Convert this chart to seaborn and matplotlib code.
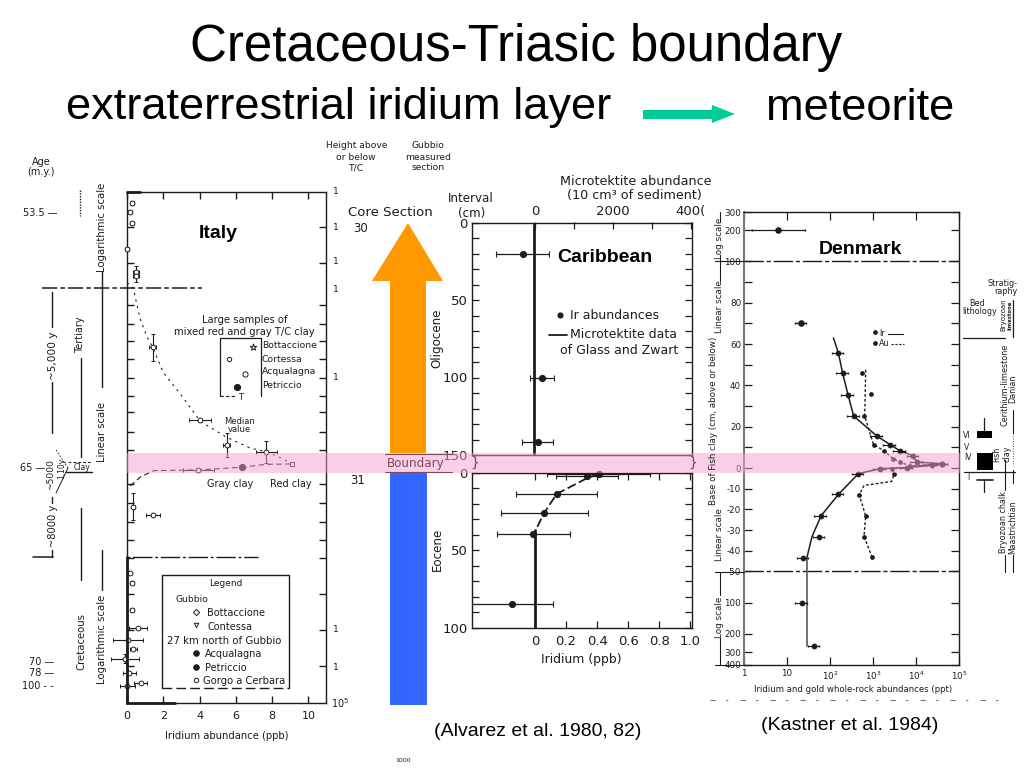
import numpy as np
import pandas as pd
import matplotlib
matplotlib.use("Agg")
import matplotlib.pyplot as plt
import seaborn as sns
from matplotlib.lines import Line2D
from matplotlib.patches import Polygon, Rectangle
from matplotlib.transforms import Affine2D

# ---------- data ----------
italy_open_ppb = [0.26, 0.16, 0.29, 0.0, 0.5, 0.5, 1.42, 4.03, 5.5, 7.68, 3.94, 0.35, 1.44,
                  0.16, 0.26, 0.26, 0.62, 0.07, 0.35, -0.1, 0.13, 0.76, 0.02]
italy_open_h = [14.7, 14.2, 13.6, 12.15, 10.9, 10.65, 6.7, 2.67, 1.27, 0.9, -0.11, -2.15, -2.6,
                -5.85, -6.4, -7.9, -8.87, -9.55, -10.07, -10.6, -11.4, -11.97, -12.1]
italy_open_xerr = [0.1, 0.1, 0.1, 0.1, 0.15, 0.15, 0.2, 0.6, 0.2, 0.57, 0.83, 0.1, 0.37,
                   0.05, 0.1, 0.1, 0.5, 0.83, 0.2, 0.76, 0.37, 0.37, 0.43]
italy_open_yerr = [0, 0, 0, 0, 0.3, 0.3, 0.75, 0, 0.65, 0.6, 0.1, 0.74, 0,
                   0, 0, 0, 0, 0, 0, 0.25, 0, 0, 0]
italy_solid_ppb = [6.33]
italy_solid_h = [0.04]
italy_upper_curve_ppb = [0.0, 0.34, 0.72, 1.09, 1.42, 2.0, 3.1, 4.03, 5.5, 6.8, 7.7, 8.5, 9.1]
italy_upper_curve_h = [10.3, 10.0, 8.3, 7.3, 6.7, 5.3, 3.9, 2.6, 1.7, 1.1, 0.9, 0.55, 0.22]
italy_lower_curve_ppb = [0.18, 0.74, 1.48, 3.94, 6.33, 7.68, 9.1]
italy_lower_curve_h = [-1.0, -0.5, -0.15, -0.11, 0.04, 0.2, 0.22]
italy_x_ticks = [0, 2, 4, 6, 8, 10]
italy_x_labels = ["0", "2", "4", "6", "8", "10"]
italy_y_ticks = [13.4, 11.4, 9.05, 8, 7.05, 6.05, 5, 4, 3.1, 2, 1, -0.9, -1.95, -3, -4, -5, -7, -9, -11]
sample_x = [6.94, 5.6, 6.52, 6.06]
sample_h = [6.74, 6.04, 5.22, 4.52]
key_x = [3.8, 3.8, 3.8, 3.8, 3.8]
key_h = [-7.98, -8.72, -10.28, -11.05, -11.78]

carib_up_ir = [-0.08, 0.045, 0.017]
carib_up_depth = [20.5, 100, 141.8]
carib_up_err = [0.17, 0.075, 0.1]
carib_low_ir = [0.41, 0.335, 0.14, 0.06, -0.01, -0.146]
carib_low_depth = [0.8, 2.1, 13.7, 25.8, 39.7, 84.9]
carib_low_err = [0.33, 0.2, 0.26, 0.28, 0.235, 0.26]
carib_curve_ir = [0.41, 0.335, 0.14, 0.06, 0.005]
carib_curve_depth = [0.8, 3.5, 13.7, 25.8, 37]
carib_micro_upper_ir = [-0.008, -0.008]
carib_micro_upper_depth = [0, 150]
carib_micro_lower_ir = [0, 0]
carib_micro_lower_depth = [37, 100]
carib_x_ticks = [0, 0.2, 0.4, 0.6, 0.8, 1.0]
carib_x_labels = ["0", "0.2", "0.4", "0.6", "0.8", "1.0"]
micro_ticks = [0, 1000, 2000, 3000, 4000]
micro_labels = ["0", "", "2000", "", "400("]

den_ir_up_x = [156, 197, 262, 355, 1225, 2485, 4260, 8700, 10400, 39700]
den_ir_up_y = [55.9, 45.9, 35.5, 25.2, 15.5, 11.4, 8.3, 5.9, 2.9, 2.1]
den_ir_low_x = [39700, 23200, 6060, 1450, 457, 156, 62, 56, 24, 22, 43]
den_ir_low_y = [1.8, 1.3, 0.2, -0.3, -2.7, -12.8, -23.1, -33.3, -43.4, -100, -260]
den_ir_far_x = [6.07, 21.5]
den_ir_far_y = [200, 70.4]
den_ir_far_lo = [1.5, 15]
den_ir_far_hi = [26, 28]
den_ir_curve_x = [120, 156, 197, 262, 355, 1225, 2485, 4260, 8700, 10400, 39700, 23200, 6060,
                  1450, 457, 156, 62, 38, 29, 29, 29]
den_ir_curve_y = [63, 55.9, 45.9, 35.5, 25.2, 15.5, 11.4, 8.3, 5.9, 2.9, 2.1, 1.3, 0.2,
                  -0.3, -2.7, -12.8, -23.1, -33.3, -43.4, -100, -260]
den_au_x = [562, 898, 630, 1030, 1830, 2880, 4260, 7280, 2700, 3150, 480, 676, 617, 955]
den_au_y = [45.9, 35.8, 25.2, 11.4, 8.3, 4.6, 2.9, 1.0, -0.3, -2.7, -13, -23.2, -33.2, -43.1]
den_au_curve_x = [676, 650, 640, 1030, 1830, 2880, 4260, 7280, 39700, 2700, 3150, 2700, 620, 480, 676, 617, 955]
den_au_curve_y = [47.6, 30, 25.2, 11.4, 8.3, 4.6, 2.9, 1.0, 2.1, -0.3, -2.7, -6.5, -8.4, -13, -23.2, -33.2, -43.1]
den_key_x = [1120, 1120]
den_key_y = [65.7, 60.3]
den_y_ticks = [300, 200, 100, 90, 80, 70, 60, 50, 40, 30, 20, 10, 0, -10, -20, -30, -40, -50,
               -100, -200, -300, -400]
den_y_labels = ["300", "200", "100", "", "80", "", "60", "", "40", "", "20", "", "0", "-10", "-20", "-30",
                "-40", "-50", "100", "200", "300", "400"]
den_x_ticks = [1, 10, 100, 1000, 10000, 100000]
den_x_labels = ["1", "10", "10$^2$", "10$^3$", "10$^4$", "10$^5$"]

# ---------- canvas ----------
INK = "#1c1c1c"
MAUVE = "#7a4a62"
sns.set_theme(style="white", rc={"axes.facecolor": "none", "figure.facecolor": "white"})
plt.rcParams["font.family"] = ["DejaVu Sans"]
W, H = 1024, 768
fig = plt.figure(figsize=(W / 100, H / 100), dpi=100)
px = Affine2D().scale(1 / W, -1 / H).translate(0, 1) + fig.transFigure


def panel(left, top, right, bottom):
    ax = fig.add_axes([left / W, 1 - bottom / H, (right - left) / W, (bottom - top) / H])
    ax.set_facecolor("none")
    for s in ax.spines.values():
        s.set_color(INK)
        s.set_linewidth(1.0)
    return ax


def note(x, y, s, size=6.5, color=INK, ha="center", va="center", **kw):
    return fig.text(x, y, s, transform=px, fontsize=size, color=color, ha=ha, va=va, **kw)


def slide(x, y, s, size, **kw):
    return note(x, y, s, size=size, color="black", family="Liberation Sans", **kw)


def rule(xs, ys, lw=1.0, ls="-", color=INK, z=4):
    fig.add_artist(Line2D(xs, ys, transform=px, lw=lw, ls=ls, color=color, zorder=z))


def fill(artist):
    artist.set_transform(px)
    fig.add_artist(artist)


def marks(ax, x, y, marker="o", size=16, face=INK, edge=INK):
    sns.scatterplot(x=x, y=y, ax=ax, marker=marker, s=size, color=face, edgecolor=edge,
                    linewidth=0.7, zorder=5, legend=False, clip_on=False)


def curve(ax, x, y, ls="-", lw=1.0, color=INK):
    frame = pd.DataFrame({"x": x, "y": y, "o": np.arange(len(x))})
    sns.lineplot(data=frame, x="x", y="y", ax=ax, sort=False, estimator=None, color=color,
                 lw=lw, ls=ls, legend=False, zorder=3)
    ax.set_xlabel("")
    ax.set_ylabel("")


# ---------- slide decoration ----------
slide(516.5, 47, "Cretaceous-Triasic boundary", 36.7)
slide(339, 108, "extraterrestrial iridium layer", 32.6)
slide(860, 108, "meteorite", 32.6)
fill(Polygon([(643, 110), (712, 110), (712, 105), (735, 114), (712, 123), (712, 119), (643, 119)],
             closed=True, fc="#00CC99", ec="none", zorder=2))
fill(Polygon([(408, 223), (443, 281), (426, 281), (426, 453), (390, 453), (390, 281), (372, 281)],
             closed=True, fc="#FF9900", ec="none", zorder=-3))
fill(Rectangle((390, 473), 37, 232, fc="#3366FF", ec="none", zorder=-3))
fill(Rectangle((127, 453), 833, 20, fc=(0.97, 0.63, 0.80), alpha=0.5, ec="none", zorder=1))
slide(218, 233, "Italy", 14, fontweight="bold")
slide(604.5, 258, "Caribbean", 14, fontweight="bold")
slide(860, 249, "Denmark", 14, fontweight="bold")
slide(538, 731, "(Alvarez et al. 1980, 82)", 14)
slide(850, 726, "(Kastner et al. 1984)", 14)

# ---------- Italy ----------
ax = panel(127, 192, 326, 703)
ax.set_xlim(0, 10.97)
ax.set_ylim(-13.06, 15.33)
ax.set_xticks(italy_x_ticks)
ax.set_xticklabels(italy_x_labels)
ax.set_yticks(italy_y_ticks)
ax.set_yticklabels([])
ax.tick_params(direction="in", length=5, width=1, color=INK, labelsize=8, labelcolor=INK, pad=6,
               left=True, right=True, bottom=True, top=True)
ax.errorbar(italy_open_ppb, italy_open_h, xerr=italy_open_xerr, yerr=italy_open_yerr, fmt="none",
            ecolor=INK, elinewidth=0.8, capsize=1.5, capthick=0.7, zorder=4, clip_on=False)
marks(ax, italy_open_ppb, italy_open_h, size=12, face="white")
marks(ax, italy_solid_ppb, italy_solid_h, size=20)
marks(ax, [9.1], [0.22], marker="s", size=12, face="white")
curve(ax, italy_upper_curve_ppb, italy_upper_curve_h, ls=(0, (2, 4)), lw=0.8)
curve(ax, italy_lower_curve_ppb, italy_lower_curve_h, ls=(0, (5, 3)), lw=0.8)
marks(ax, sample_x[:1], sample_h[:1], marker="*", size=24, face="white")
marks(ax, sample_x[1:2], sample_h[1:2], marker="o", size=10, face="white")
marks(ax, sample_x[2:3], sample_h[2:3], marker="o", size=14, face="white")
marks(ax, sample_x[3:], sample_h[3:], size=20)
marks(ax, key_x[:1], key_h[:1], marker="D", size=10, face="white")
marks(ax, key_x[1:2], key_h[1:2], marker="v", size=10, face="white")
marks(ax, key_x[2:4], key_h[2:4], size=16)
marks(ax, key_x[4:], key_h[4:], size=10, face="white")
ax.set_xlim(0, 10.97)
ax.set_ylim(-13.06, 15.33)
rule([127, 127], [557, 703], 2.0)
rule([127, 175], [703, 703], 2.0)
rule([127, 140], [192, 192], 2.0)

note(41, 162, "Age", 7)
note(41, 172, "(m.y.)", 7)
note(40, 213, "53.5 —", 7)
note(33, 468, "65 —", 7)
note(42, 662, "70 —", 7)
note(42, 673, "78 —", 7)
note(38, 686, "100 - -", 7)
note(102, 227, "Logarithmic scale", 7.3, rotation=90)
note(102, 432, "Linear scale", 7.2, rotation=90)
note(102, 639, "Logarithmic scale", 7.3, rotation=90)
note(80.5, 335, "Tertiary", 7, rotation=90)
note(81, 642, "Cretaceous", 7.3, rotation=90)
note(53, 356, "~5,000 y", 7.6, rotation=90)
note(51, 474, "~5000", 6.6, rotation=90)
note(53, 526, "~8000 y", 7.2, rotation=90)
note(62, 468, "1.10y", 5.5, rotation=90)
note(82, 467, "Clay", 5.5)
rule([42, 202], [288, 288], 1.1, (0, (10, 2, 3, 2)))
rule([33, 53], [557, 557], 1.1)
rule([127, 258], [557, 557], 1.0, (0, (2, 2, 14, 2)))
rule([52, 52], [292, 327], 1)
rule([52, 52], [382, 433], 1)
rule([52, 52], [497, 503], 1)
rule([52, 52], [550, 557], 1)
rule([80.5, 80.5], [358, 457], 1)
rule([80.5, 80.5], [508, 580], 1)
rule([102, 102], [272, 387], 1)
rule([102, 102], [550, 590], 1)
rule([80, 80], [190, 216], 1, (0, (1, 1)))
rule([66, 92], [472, 472], 1)
rule([68, 92], [462, 462], 0.7, (0, (3, 2)))
rule([56, 68], [450, 468], 0.6, (0, (2, 2)))
rule([56, 68], [493, 468], 0.7)

note(245, 320, "Large samples of", 7.2)
note(244, 332, "mixed red and gray T/C clay", 7.2)
rule([220, 220, 261, 261], [396, 338, 338, 396], 0.9)
rule([220, 236], [396, 396], 0.8, (0, (3, 2)))
for label, yy in zip(["Bottaccione", "Cortessa", "Acqualagna", "Petriccio"], [346, 359, 372, 386]):
    note(262, yy, label, 6.7, ha="left")
note(241, 398, "T", 6)
note(239.5, 421, "Median", 6)
note(239.5, 430, "value", 6)
note(230, 484, "Gray clay", 7)
note(291, 484, "Red clay", 7)

rule([162, 162, 289, 289], [688, 575, 575, 688], 1.0)
rule([162, 289], [688, 688], 1.0, (0, (7, 3)))
note(226, 584, "Legend", 6.5)
note(175, 599.5, "Gubbio", 6.6, ha="left")
note(207, 613, "Bottaccione", 7, ha="left")
note(207, 627, "Contessa", 7, ha="left")
note(167, 641, "27 km north of Gubbio", 7.3, ha="left")
note(205, 654, "Acqualagna", 7, ha="left")
note(205, 668, "Petriccio", 7, ha="left")
note(203, 681, "Gorgo a Cerbara", 7.2, ha="left")
note(227, 736, "Iridium abundance (ppb)", 7.2)

note(357, 146, "Height above", 6.6)
note(356, 157, "or below", 6.6)
note(357, 168, "T/C", 6.6)
note(428, 146, "Gubbio", 6.6)
note(428, 157, "measured", 6.6)
note(428, 168, "section", 6.6)
for yy in [192, 227, 262, 290, 377, 630, 667]:
    note(336, yy, "1", 6.5)
note(340, 703, "10$^5$", 7)

# ---------- Caribbean ----------
up = panel(472, 222.5, 691.5, 455)
up.set_xlim(-0.405, 1.006)
up.set_ylim(150, 0)
up.set_yticks([0, 50, 100, 150])
up.set_yticklabels(["0", "50", "100", "150"])
up.set_yticks(np.arange(0, 150, 10), minor=True)
up.tick_params(which="both", direction="in", right=True, left=True, width=0.9, color=INK,
               labelsize=9.5, labelcolor=INK, pad=3, length=5)
up.set_xticks([])
curve(up, carib_micro_upper_ir, carib_micro_upper_depth, lw=2.0)
up.errorbar(carib_up_ir, carib_up_depth, xerr=carib_up_err, fmt="none", ecolor=INK, elinewidth=0.9,
            capsize=2.5, capthick=0.8, zorder=4)
marks(up, carib_up_ir, carib_up_depth, size=20)
marks(up, [0.163], [59.7], size=14)
up.set_xlim(-0.405, 1.006)
up.set_ylim(150, 0)
micro = up.secondary_xaxis("top", functions=(lambda v: v * 4000, lambda v: v / 4000))
micro.set_xticks(micro_ticks)
micro.set_xticklabels(micro_labels)
micro.tick_params(direction="in", length=5, width=0.9, color=INK, labelsize=9.5, labelcolor=INK, pad=3)
micro.spines["top"].set_visible(False)

low = panel(472, 472.7, 692, 627.7)
low.set_xlim(-0.405, 1.01)
low.set_ylim(100, 0)
low.set_xticks(carib_x_ticks)
low.set_xticklabels(carib_x_labels)
low.set_yticks([0, 50, 100])
low.set_yticklabels(["0", "50", "100"])
low.set_yticks(np.arange(0, 100, 10), minor=True)
low.tick_params(which="both", direction="in", right=True, left=True, top=True, bottom=True, width=0.9,
                color=INK, labelsize=9.5, labelcolor=INK, pad=5, length=5)
low.tick_params(axis="y", pad=3)
curve(low, carib_micro_lower_ir, carib_micro_lower_depth, lw=2.0)
curve(low, carib_curve_ir, carib_curve_depth, ls=(0, (5, 2)), lw=1.3)
low.errorbar(carib_low_ir, carib_low_depth, xerr=carib_low_err, fmt="none", ecolor=INK, elinewidth=0.9,
             capsize=2.5, capthick=0.8, zorder=4)
marks(low, carib_low_ir, carib_low_depth, size=20)
low.set_xlim(-0.405, 1.01)
low.set_ylim(100, 0)

note(581, 660, "Iridium (ppb)", 8.9)
note(636, 181.5, "Microtektite abundance", 9.2)
note(634.5, 195, "(10 cm³ of sediment)", 9.2)
note(471, 199, "Interval", 8.6)
note(472, 213, "(cm)", 8.6)
note(390, 213, "Core Section", 9.5)
note(361, 228, "30", 8.5)
note(358, 480, "31", 8.5)
note(416, 463, "Boundary", 8.6, color=MAUVE)
rule([385, 452], [454, 454], 0.8, color=MAUVE)
rule([385, 452], [472, 472], 0.8, color=MAUVE)
note(437, 338, "Oligocene", 8.6, rotation=90)
note(437, 549, "Eocene", 8.6, rotation=90)
note(475, 463, "}", 10, color=MAUVE)
note(693, 463, "}", 10, color=MAUVE)
note(614.5, 315.5, "Ir abundances", 9)
rule([549, 567], [335, 335], 1.3)
note(624, 335, "Microtektite data", 9)
note(619.5, 350, "of Glass and Zwart", 9)

# ---------- Denmark ----------
DEC = 50.2


def den_fwd(v):
    v = np.asarray(v, dtype=float)
    out = v.copy()
    hi = v > 100
    lo = v < -50
    out[hi] = 100 + DEC * np.log10(v[hi] / 100)
    out[lo] = -50 - DEC * np.log10(-v[lo] / 50)
    return out


def den_inv(v):
    v = np.asarray(v, dtype=float)
    out = v.copy()
    hi = v > 100
    lo = v < -50
    out[hi] = 100 * 10 ** ((v[hi] - 100) / DEC)
    out[lo] = -50 * 10 ** ((-50 - v[lo]) / DEC)
    return out


den = panel(744, 212, 959, 665)
den.set_xscale("log")
den.set_xlim(1, 1e5)
den.set_yscale("function", functions=(den_fwd, den_inv))
den.set_ylim(-400, 300)
curve(den, den_ir_curve_x[:-2], den_ir_curve_y[:-2], lw=1.1)
curve(den, den_ir_curve_x[-3:], den_ir_curve_y[-3:], lw=1.3, color="#666666")
curve(den, den_au_curve_x, den_au_curve_y, ls=(0, (2, 1.5)), lw=1.0)
den.errorbar(den_ir_far_x, den_ir_far_y,
             xerr=[np.subtract(den_ir_far_x, den_ir_far_lo), np.subtract(den_ir_far_hi, den_ir_far_x)],
             fmt="none", ecolor=INK, elinewidth=0.9, capsize=1, zorder=4)
ir_all_x = den_ir_up_x + den_ir_low_x
ir_all_y = den_ir_up_y + den_ir_low_y
den.errorbar(ir_all_x, ir_all_y, xerr=np.multiply(ir_all_x, 0.3), fmt="none", ecolor=INK, elinewidth=0.8,
             capsize=1, zorder=4)
marks(den, den_ir_far_x, den_ir_far_y, size=16)
marks(den, ir_all_x, ir_all_y, size=12)
marks(den, den_au_x, den_au_y, size=7)
marks(den, den_key_x, den_key_y, size=7)
den.axhline(100, color=INK, lw=1, ls=(0, (14, 2, 3, 2)), zorder=2)
den.axhline(-50, color=INK, lw=1, ls=(0, (14, 2, 3, 2)), zorder=2)
den.set_xlim(1, 1e5)
den.set_ylim(-400, 300)
den.set_xticks(den_x_ticks)
den.set_xticklabels(den_x_labels)
den.minorticks_off()
den.set_yticks(den_y_ticks)
den.set_yticklabels(den_y_labels)
den.tick_params(direction="in", length=6, width=0.9, color=INK, labelsize=6.3, labelcolor=INK, pad=2,
                left=True, right=True, top=True, bottom=True, which="major")
den.tick_params(axis="x", pad=3)
den.spines["left"].set_color("#777777")
den.spines["left"].set_linewidth(1.5)
note(853, 689, "Iridium and gold whole-rock abundances (ppt)", 6.1)
note(713, 421, "Base of Fish clay (cm, above or below)", 6.3, rotation=90)
note(720, 307, "Linear scale", 6.3, rotation=90)
note(720, 238, "Log scale", 6.3, rotation=90)
note(719, 535, "Linear scale", 6.3, rotation=90)
note(719, 617, "Log scale", 6.3, rotation=90)
rule([720, 720], [212, 222], 0.8)
rule([720, 720], [255, 281], 0.8)
rule([720, 720], [572, 595], 0.8)
rule([720, 720], [638, 665], 0.8)
rule([715, 744], [572, 572], 0.8)
rule([715, 744], [261, 261], 0.8)
rule([715, 744], [665, 665], 0.8)
note(879, 333.5, "Ir", 5.8, ha="left")
rule([888, 903], [333.5, 333.5], 0.8)
note(879, 344, "Au", 5.8, ha="left")
rule([891, 904], [344, 344], 0.8, (0, (2, 1.5)))

note(1002.5, 283, "Stratig-", 5.8)
note(1006, 291.5, "raphy", 5.8)
note(977.5, 303, "Bed", 5.8)
note(979.5, 312, "lithology", 5.8)
note(1003, 315, "Bryozoan", 5, rotation=90)
note(1010, 315, "limestone", 3.8, rotation=90, fontweight="bold")
note(1005, 385, "Cerithium-limestone", 5.8, rotation=90)
note(1013, 389, "Danian", 5.8, rotation=90)
note(1004, 522, "Bryozoan chalk", 5.8, rotation=90)
note(1013, 527, "Maastrichtian", 5.6, rotation=90)
note(997, 454, "Fish", 5.8, rotation=90)
note(1007, 454, "clay", 5.8, rotation=90)
note(967, 436, "VI", 5.5)
note(967, 447, "V", 5.5)
note(968, 458, "IV", 5.5)
note(968, 478, "I", 5.5)
fill(Rectangle((977, 431), 15, 7, fc="black", ec="none", zorder=6))
fill(Rectangle((977, 453), 16, 17, fc="black", ec="none", zorder=6))
rule([963, 1005], [338, 338], 0.9)
rule([964, 1015], [472, 472], 0.9)
rule([977, 993], [480, 480], 1.2)
rule([984, 984], [418, 431], 0.9)
rule([984, 984], [480, 492], 0.9)
rule([1013, 1013], [300, 337], 0.9)
rule([1013, 1013], [410, 433], 0.8)
rule([1013, 1013], [433, 466], 0.6, (0, (1, 2)))
rule([1013, 1013], [470, 483], 0.8)
rule([1005, 1005], [460, 490], 0.8)
rule([1005, 1005], [555, 572], 0.8)
rule([1013, 1013], [555, 572], 0.8)
note(403, 760, "1000", 4.5)
rule([710, 1000], [700, 700], 0.8, (0, (5, 9, 2, 11)), color="#777777")

fig.savefig("out.png", dpi=100)
